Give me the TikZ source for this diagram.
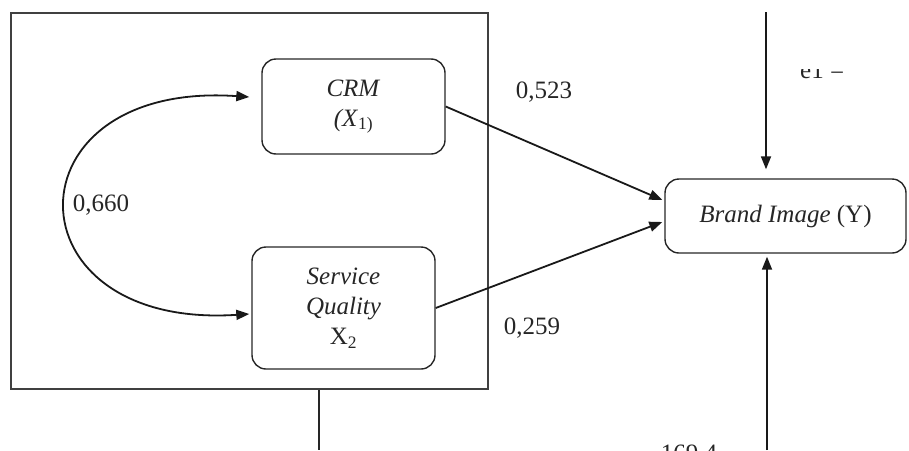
\documentclass[tikz,border=0pt]{standalone}
\usepackage{fontspec}
\setmainfont{Liberation Serif}
\usetikzlibrary{arrows.meta,calc}

\begin{document}
\begin{tikzpicture}[x=1pt,y=-1pt,
  >={Triangle[length=13pt,width=10pt]},
  lbl/.style={font=\fontsize{25}{30}\selectfont, text=black!85, inner sep=0pt},
  var/.style={draw=black!85, line width=1.4pt, rounded corners=14pt, inner sep=0pt,
    align=center, font=\fontsize{25}{30}\selectfont, text=black!85},
  link/.style={line width=1.8pt, draw=black!90},
]
\clip (0,0) rectangle (909,450);

% exogenous block
\node[draw=black!75, line width=1.8pt, minimum width=477pt, minimum height=376pt,
      inner sep=0pt] (frame) at (249.5,201) {};

% variables
\node[var, minimum width=183pt, minimum height=95pt] (crm) at (353.5,106.5)
  {\textit{CRM}\\\textit{(X}\textsubscript{1)}};
\node[var, minimum width=183pt, minimum height=122pt] (sq) at (343.5,308)
  {\textit{Service}\\\textit{Quality}\\X\textsubscript{2}};
\node[var, minimum width=241pt, minimum height=74pt] (brand) at (785.5,216)
  {\textit{Brand Image} (Y)};

% correlation between the exogenous variables
\coordinate (cA) at ($(crm.west)+(-12,-9.5)$);
\coordinate (cB) at ($(sq.west)+(-2,6)$);
\draw[link,<->] (cA) .. controls (5,80) and (5,330) .. (cB);
\node[lbl] (r12) at (101,205) {0,660};

% path coefficients
\draw[link,->] (crm.east) -- ($(brand.west)+(-2,-16)$);
\draw[link,->] (sq.east) -- ($(brand.west)+(-2,6)$);
\node[lbl] (p1) at (544,92) {0,523};
\node[lbl] (p2) at (532,328) {0,259};

% residual and lower connectors
\coordinate (etop) at (766,12);
\draw[link,->,shorten >=9pt] (etop) -- (etop |- brand.north);
\coordinate (ebot) at (767,450);
\draw[link,->,shorten >=3pt] (ebot) -- (ebot |- brand.south);
\coordinate (fl) at (319,450);
\draw[line width=1.4pt, draw=black!85] (fl |- frame.south) -- (fl);

\begin{scope}
  \clip (780,69) rectangle (880,100);
  \node[lbl, anchor=base west] (e1) at (800,78) {e1 =};
\end{scope}
\node[lbl, anchor=base] (n169) at (689,461) {169,4};
\end{tikzpicture}
\end{document}
